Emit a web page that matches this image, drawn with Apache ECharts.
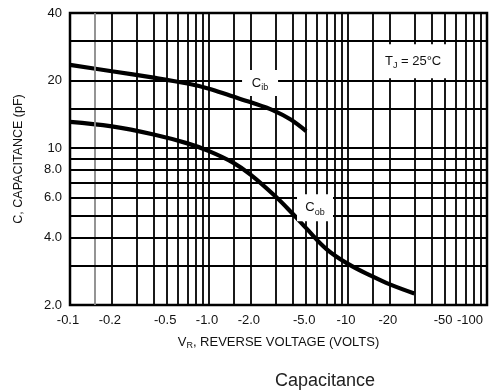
<!DOCTYPE html>
<html><head><meta charset="utf-8">
<script src="https://cdn.jsdelivr.net/npm/echarts@6/dist/echarts.min.js"></script>
<style>html,body{margin:0;padding:0;background:#fff}#c{width:502px;height:392px}</style>
</head><body><div id="c"></div>
<script>
// Data (reverse voltage magnitude in volts, capacitance in pF)
const cibV = [0.1, 0.2, 0.4, 0.7, 1.0, 1.43, 2.0, 2.92, 3.87, 5.0];
const cibC = [23.5, 22.0, 20.6, 19.4, 18.4, 17.1, 16.0, 14.7, 13.4, 11.9];
const cobV = [0.1, 0.2, 0.4, 0.7, 1.0, 1.5, 2.0, 3, 4, 5, 7, 10, 15, 20, 30];
const cobC = [13.1, 12.5, 11.5, 10.5, 9.7, 8.6, 7.6, 6.1, 5.1, 4.4, 3.55, 3.05, 2.68, 2.47, 2.25];

const xTickValues = [0.1, 0.2, 0.5, 1, 2, 5, 10, 20, 50, 100];
const xTickLabels = ['-0.1', '-0.2', '-0.5', '-1.0', '-2.0', '-5.0', '-10', '-20', '-50', '-100'];
const yTickValues = [2, 4, 6, 8, 10, 20, 40];
const yTickLabels = ['2.0', '4.0', '6.0', '8.0', '10', '20', '40'];

const gridXValues = [0.15, 0.2, 0.3, 0.4, 0.5, 0.6, 0.7, 0.8, 0.9, 1, 1.5, 2, 3, 4, 5, 6, 7, 8, 9, 10, 15, 20, 30, 40, 50, 60, 70, 80, 90];
const gridYValues = [3, 4, 5, 6, 7, 8, 9, 10, 15, 20, 30];

const annotations = [
  { coord: [2.33, 19.5], text: '{c|C}{s|ib}', size: [36, 26] },
  { coord: [5.79, 5.43], text: '{c|C}{s|ob}', size: [36, 27] },
  { coord: [29.4, 24.4], text: '{c|T}{s|J}{c| = 25°C}', size: [72, 34] }
];

function pickLabel(values, labels, v) {
  let best = 0, bd = Infinity;
  for (let i = 0; i < values.length; i++) {
    const d = Math.abs(Math.log(v) - Math.log(values[i]));
    if (d < bd) { bd = d; best = i; }
  }
  return labels[best];
}

const FONT = '"Liberation Sans", Arial, sans-serif';
const chart = echarts.init(document.getElementById('c'), null, { renderer: 'canvas' });
chart.setOption({
  animation: false,
  backgroundColor: '#fff',
  title: {
    text: 'Capacitance', left: 270, top: 367,
    textStyle: { fontSize: 18, fontWeight: 'normal', color: '#222', fontFamily: FONT }
  },
  grid: { left: 70, right: 15, top: 13, bottom: 87, show: true, borderColor: '#000', borderWidth: 2.5, backgroundColor: '#fff' },
  xAxis: {
    type: 'log', logBase: 10, min: 0.1, max: 100,
    axisLine: { show: false }, axisTick: { show: false }, splitLine: { show: false },
    axisLabel: {
      customValues: xTickValues, margin: 9, fontSize: 13, color: '#111', fontFamily: FONT,
      padding: [0, 4, 0, 0], alignMaxLabel: 'right',
      formatter: v => pickLabel(xTickValues, xTickLabels, v)
    },
    name: '{n|V}{s|R}{n|, REVERSE VOLTAGE (VOLTS)}', nameLocation: 'middle', nameGap: 29,
    nameTextStyle: {
      rich: {
        n: { fontSize: 13, color: '#111', fontFamily: FONT, lineHeight: 16, verticalAlign: 'middle' },
        s: { fontSize: 9, color: '#111', fontFamily: FONT, verticalAlign: 'bottom' }
      }
    }
  },
  yAxis: {
    type: 'log', logBase: 10, min: 2, max: 40,
    axisLine: { show: false }, axisTick: { show: false }, splitLine: { show: false },
    axisLabel: {
      customValues: yTickValues, margin: 8, fontSize: 13, color: '#111', fontFamily: FONT,
      formatter: v => pickLabel(yTickValues, yTickLabels, v)
    },
    name: 'C, CAPACITANCE (pF)', nameLocation: 'middle', nameGap: 45, nameRotate: 90,
    nameTextStyle: { fontSize: 12.5, color: '#111', fontFamily: FONT }
  },
  series: [
    {
      type: 'line', data: [], z: 1, silent: true,
      markLine: {
        silent: true, symbol: ['none', 'none'], label: { show: false }, animation: false,
        lineStyle: { color: '#000', width: 1.8, type: 'solid' },
        data: gridXValues.map(v => ({ xAxis: v, lineStyle: { color: v === 0.15 ? '#888' : '#000', width: 1.8, type: 'solid' } }))
          .concat(gridYValues.map(v => ({ yAxis: v })))
      }
    },
    {
      name: 'Cib', type: 'line', z: 3, smooth: 0.35, symbol: 'none',
      lineStyle: { color: '#000', width: 4.2 },
      data: cibV.map((v, i) => [v, cibC[i]])
    },
    {
      name: 'Cob', type: 'line', z: 3, smooth: 0.4, symbol: 'none',
      lineStyle: { color: '#000', width: 4.2 },
      data: cobV.map((v, i) => [v, cobC[i]])
    },
    {
      type: 'line', data: [], z: 4, silent: true,
      markPoint: {
        silent: true, animation: false,
        data: annotations.map(a => ({
          coord: a.coord, symbol: 'rect', symbolSize: a.size,
          itemStyle: { color: '#fff' },
          label: {
            show: true, position: 'inside', formatter: a.text,
            rich: {
              c: { fontSize: 13, color: '#111', fontFamily: FONT, lineHeight: 18, verticalAlign: 'middle' },
              s: { fontSize: 9, color: '#111', fontFamily: FONT, verticalAlign: 'bottom' }
            }
          }
        }))
      }
    }
  ]
});
</script>
</body></html>
